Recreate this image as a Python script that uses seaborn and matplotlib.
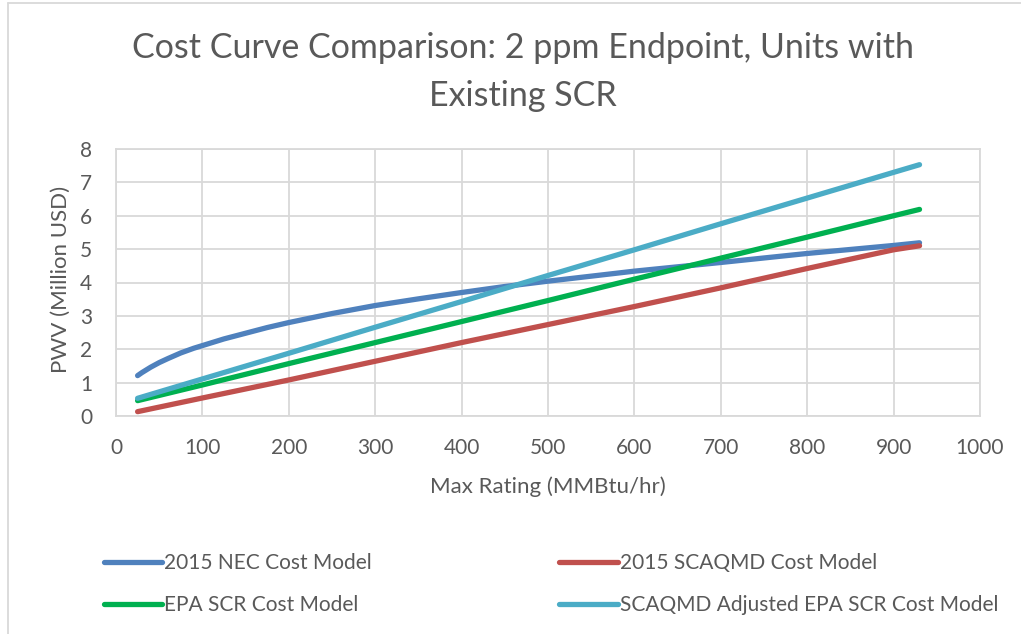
import matplotlib
matplotlib.use("Agg")
import matplotlib.pyplot as plt
from matplotlib.lines import Line2D
import seaborn as sns
import pandas as pd

# ---- data ----
nec_x = [25, 30, 40, 50, 60, 75, 90, 100, 125, 150, 175, 200, 250, 300, 350, 400, 450,
         500, 600, 700, 800, 900, 930]
nec_y = [1.21, 1.30, 1.46, 1.60, 1.72, 1.89, 2.03, 2.11, 2.31, 2.48, 2.65, 2.80, 3.07,
         3.31, 3.51, 3.70, 3.88, 4.04, 4.34, 4.60, 4.87, 5.11, 5.19]

scaqmd_x = [25, 100, 200, 300, 400, 500, 600, 700, 800, 900, 930]
scaqmd_y = [0.13, 0.54, 1.08, 1.64, 2.20, 2.74, 3.28, 3.84, 4.42, 4.98, 5.10]

epa_x = [25, 100, 200, 300, 400, 500, 600, 700, 800, 900, 930]
epa_y = [0.46, 0.93, 1.57, 2.20, 2.83, 3.46, 4.10, 4.73, 5.36, 6.00, 6.19]

adj_x = [25, 100, 200, 300, 400, 500, 600, 700, 800, 900, 930]
adj_y = [0.53, 1.11, 1.88, 2.66, 3.43, 4.21, 4.98, 5.76, 6.53, 7.30, 7.53]

series_names = ["2015 NEC Cost Model", "2015 SCAQMD Cost Model",
                "EPA SCR Cost Model", "SCAQMD Adjusted EPA SCR Cost Model"]
colors = ["#4F81BD", "#C0504D", "#00B050", "#4BACC6"]

x_ticks = [0, 100, 200, 300, 400, 500, 600, 700, 800, 900, 1000]
y_ticks = [0, 1, 2, 3, 4, 5, 6, 7, 8]

title = "Cost Curve Comparison: 2 ppm Endpoint, Units with\nExisting SCR"
x_label = "Max Rating (MMBtu/hr)"
y_label = "PWV (Million USD)"

# ---- build long-form frame ----
frames = []
for name, xs, ys in zip(series_names,
                        [nec_x, scaqmd_x, epa_x, adj_x],
                        [nec_y, scaqmd_y, epa_y, adj_y]):
    frames.append(pd.DataFrame({"x": xs, "y": ys, "series": name}))
df = pd.concat(frames, ignore_index=True)

sns.set_theme(style="whitegrid")
plt.rcParams["font.family"] = ["Lato", "DejaVu Sans"]
text_color = "#595959"
grid_color = "#D9D9D9"

fig = plt.figure(figsize=(10.21, 6.34), dpi=100)
ax = fig.add_axes([116 / 1021, 1 - 416 / 634, (980 - 116) / 1021, (416 - 149) / 634])

sns.lineplot(data=df, x="x", y="y", hue="series", hue_order=series_names,
             palette=colors, estimator=None, sort=False, linewidth=3.8,
             ax=ax, legend=False)
for ln in ax.lines:
    ln.set_solid_capstyle("round")
    ln.set_solid_joinstyle("round")

ax.set_xlim(0, 1000)
ax.set_ylim(0, 8)
ax.set_xticks(x_ticks)
ax.set_yticks(y_ticks)
ax.tick_params(axis="both", colors=text_color, labelsize=15, length=0)
ax.tick_params(axis="x", pad=16)
ax.tick_params(axis="y", pad=17)
ax.grid(True, color=grid_color, linewidth=1.3)
for s in ax.spines.values():
    s.set_visible(True)
    s.set_color(grid_color)
    s.set_linewidth(1.3)
ax.set_facecolor("white")

ax.set_xlabel(x_label, fontsize=16, color=text_color, labelpad=13)
ax.set_ylabel(y_label, fontsize=16, color=text_color)
ax.yaxis.set_label_coords((71 - 116) / 864, 0.51)

fig.text(523 / 1021, 1 - 72 / 634, title, ha="center", va="center",
         fontsize=24.5, color=text_color, linespacing=1.6)

# legend, row-major order like the reference
order = [0, 2, 1, 3]
handles = [Line2D([0], [0], color=colors[i], linewidth=3.8, solid_capstyle="round") for i in order]
labels = [series_names[i] for i in order]
leg = fig.legend(handles, labels, ncol=2, loc="center left",
                 bbox_to_anchor=(85 / 1021, 1 - 584 / 634), frameon=False,
                 fontsize=15, handlelength=2.8, handletextpad=0.1,
                 columnspacing=9.0, labelspacing=1.05)
for t in leg.get_texts():
    t.set_color(text_color)

# outer chart frame (partially visible)
fig.add_artist(Line2D([8 / 1021, 8 / 1021], [0, 1 - 3 / 634], transform=fig.transFigure,
                      color=grid_color, linewidth=1.3))
fig.add_artist(Line2D([8 / 1021, 1], [1 - 3 / 634, 1 - 3 / 634], transform=fig.transFigure,
                      color=grid_color, linewidth=1.3))

fig.savefig("out.png", dpi=100, facecolor="white")
